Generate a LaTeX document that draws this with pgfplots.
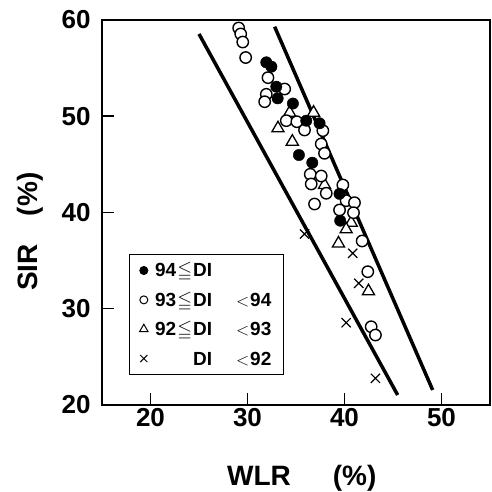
\documentclass[border=0pt]{standalone}
\usepackage{fontspec}
\setmainfont{Liberation Sans}
\usepackage{amssymb}
\usepackage{pgfplots}
\pgfplotsset{compat=1.18}
\newcommand{\tl}[1]{{\fontsize{26}{26}\selectfont\bfseries #1}}
\begin{document}
\begin{tikzpicture}
\path[use as bounding box] (-102pt,-87pt) rectangle (390pt,405pt);
\begin{axis}[
  at={(0,0)}, anchor=south west,
  scale only axis, width=388pt, height=385pt,
  xmin=15, xmax=55, ymin=20, ymax=60,
  xtick={20,30,40,50}, ytick={20,30,40,50,60},
  xticklabels={\tl{20},\tl{30},\tl{40},\tl{50}},
  yticklabels={\tl{20},\tl{30},\tl{40},\tl{50},\tl{60}},
  tick align=inside, xtick pos=bottom, ytick pos=left,
  major tick length=12pt,
  tick style={line width=1.5pt, black},
  axis line style={line width=1.5pt},
  yticklabel style={xshift=-8pt},
  xlabel={WLR\hspace{42pt}(\%)}, ylabel={SIR\hspace{28pt}(\%)},
  xlabel style={font=\bfseries\fontsize{28}{28}\selectfont, at={(axis description cs:0.515,-0.2078)}, anchor=base},
  ylabel style={font=\bfseries\fontsize{28}{28}\selectfont, at={(axis description cs:-0.1675,0.45)}, anchor=base},
  legend style={at={(axis description cs:0.0696,0.392)}, anchor=north west,
    draw=black, line width=1pt, font=\bfseries\fontsize{19}{19}\selectfont,
    row sep=9.5pt, inner xsep=10pt, inner ysep=6pt, cells={anchor=west},
    /tikz/every odd column/.append style={column sep=5pt}},
]
\draw[line width=3pt] (rel axis cs:0,1) -- (rel axis cs:1,1);
\addplot[line width=3.5pt, black, no marks, forget plot] coordinates {(25.0,58.55) (45.48,21.04)};
\addplot[line width=3.5pt, black, no marks, forget plot] coordinates {(32.8,59.3) (49.09,21.56)};
% DI < 92
\addplot[only marks, mark=x, mark size=6.5pt, black, mark options={line width=1.2pt}, forget plot] coordinates {
(35.88,37.77) (40.85,35.76) (41.47,32.64) (40.17,28.55) (43.19,22.77)};
% 92 <= DI < 93
\addplot[only marks, mark=triangle*, mark size=7pt, black, mark options={fill=white, line width=1.3pt}, forget plot] coordinates {
(34.34,50.37) (36.81,50.37) (33.14,48.75) (34.62,47.36) (37.94,42.86)
(40.69,38.94) (40.17,38.25) (39.38,36.78) (42.47,31.82)};
% 93 <= DI < 94
\addplot[only marks, mark=*, mark size=5.7pt, black, mark options={fill=white, line width=1.4pt}, forget plot] coordinates {
(29.09,59.17) (29.30,58.55) (29.51,57.71) (29.81,56.10) (32.11,54.01)
(33.83,52.83) (31.94,52.28) (31.77,51.51) (34.00,49.54) (35.09,49.43)
(35.88,48.57) (37.77,48.50) (37.60,47.12) (37.94,46.15) (36.47,43.97)
(37.60,43.79) (36.57,42.96) (38.12,42.00) (39.83,42.86) (40.17,41.23)
(41.03,41.02) (36.91,40.88) (39.49,40.26) (40.93,39.98) (41.82,37.04)
(42.40,33.85) (42.75,28.13) (43.19,27.27)};
% 94 <= DI
\addplot[only marks, mark=*, mark size=5.7pt, black, forget plot] coordinates {
(31.94,55.60) (32.46,55.15) (32.97,53.07) (33.11,51.86) (34.68,51.32)
(36.06,49.54) (37.43,49.27) (35.30,45.97) (36.68,45.17) (39.49,41.94)
(39.56,39.15)};
\addlegendimage{only marks, mark=*, mark size=4pt, black}
\addlegendentry{94\hspace{1pt}$\leqq$\hspace{1pt}DI}
\addlegendimage{only marks, mark=*, mark size=4pt, black, mark options={fill=white, line width=1pt}}
\addlegendentry{93\hspace{1pt}$\leqq$\hspace{1pt}DI\hspace{24pt}$<$\hspace{1pt}94}
\addlegendimage{only marks, mark=triangle*, mark size=5pt, black, mark options={fill=white, line width=1pt}}
\addlegendentry{92\hspace{1pt}$\leqq$\hspace{1pt}DI\hspace{24pt}$<$\hspace{1pt}93}
\addlegendimage{only marks, mark=x, mark size=5pt, black, mark options={line width=1pt}}
\addlegendentry{\phantom{92\hspace{1pt}$\leqq$\hspace{1pt}}DI\hspace{24pt}$<$\hspace{1pt}92}
\end{axis}
\end{tikzpicture}
\end{document}
